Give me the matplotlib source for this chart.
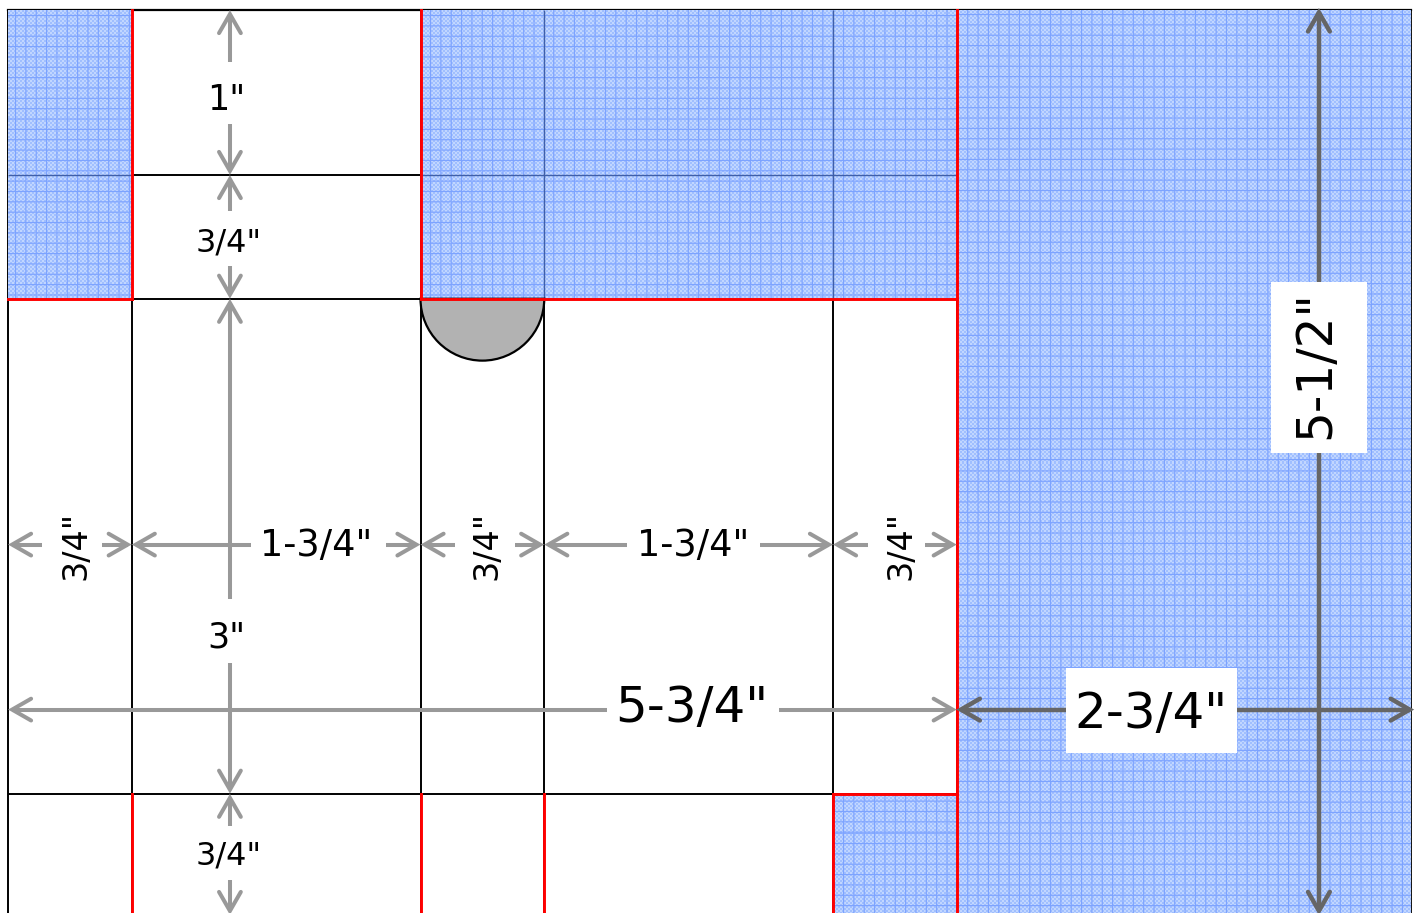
"""
Cutting layout for a box template, measurements in inches.
"""
import numpy as np
import matplotlib
matplotlib.use("Agg")
import matplotlib.pyplot as plt
from matplotlib.collections import LineCollection
from matplotlib.patches import Rectangle, Wedge

# column and row edges of the layout, inches
col_widths = [0.75, 1.75, 0.75, 1.75, 0.75, 2.75]
row_heights = [1.0, 0.75, 3.0, 0.75]
col_labels = ['3/4"', '1-3/4"', '3/4"', '1-3/4"', '3/4"']
row_labels = ['1"', '3/4"', '3"', '3/4"']
total_labels = ['5-3/4"', '2-3/4"', '5-1/2"']

xs = np.concatenate([[0], np.cumsum(col_widths)])
ys = np.concatenate([[0], np.cumsum(row_heights)])

# (column, row) cells cut away
waste_cells = [(0, 0), (0, 1), (2, 0), (2, 1), (3, 0), (3, 1), (4, 0), (4, 1), (4, 3)]

PX = 165.0  # pixels per inch in the output
FONT = "DejaVu Sans"
GRAY = "#999999"
DARK = "#666666"
RED = "#ff0000"

fig = plt.figure(figsize=(14.16, 9.13), dpi=100)
ax = fig.add_axes([0, 0, 1, 1])
ax.set_xlim(-8 / PX, (1416 - 8) / PX)
ax.set_ylim((913 - 10) / PX, -10 / PX)
ax.axis("off")


def waste_texture():
    # fine checker with a coarser, soft grid on top
    yy, xx = np.mgrid[0:913, 0:1416]
    check = ((xx // 2 + yy // 2) % 2)[..., None]
    base = np.array([0.63, 0.75, 1.0])
    light = np.array([0.76, 0.84, 1.0])
    tile = base * (1 - check) + light * check
    period = 10.35
    dx = np.abs((xx + 0.5) % period - period / 2)
    dy = np.abs((yy + 0.5) % period - period / 2)
    weight = np.clip(1.1 - np.minimum(dx, dy), 0, 1)[..., None]
    return tile * (1 - weight) + np.array([0.49, 0.64, 1.0]) * weight


texture = waste_texture()
extent = (ax.get_xlim()[0], ax.get_xlim()[1], ax.get_ylim()[0], ax.get_ylim()[1])

# black cell lines first
for x in xs[:-1]:
    ax.plot([x, x], [ys[0], ys[-1]], color="black", lw=1.4, solid_capstyle="butt", zorder=1)
for y in ys[:-1]:
    ax.plot([xs[0], xs[5]], [y, y], color="black", lw=1.4, solid_capstyle="butt", zorder=1)
ax.plot([xs[0], xs[-1]], [0, 0], color="black", lw=1.6, zorder=1)
ax.plot([xs[-1], xs[-1]], [ys[0], ys[-1]], color="black", lw=1.3, zorder=1)


def add_waste(x0, y0, x1, y1):
    im = ax.imshow(texture, extent=extent, zorder=2, interpolation="nearest", aspect="auto")
    im.set_clip_path(Rectangle((x0, y0), x1 - x0, y1 - y0, transform=ax.transData))


for c, r in waste_cells:
    add_waste(xs[c], ys[r], xs[c + 1], ys[r + 1])
add_waste(xs[5], ys[0], xs[6], ys[-1])
ax.set_xlim(extent[0], extent[1])
ax.set_ylim(extent[2], extent[3])

# faint dark seams where folds pass through the waste
seams = [[(xs[0], ys[1]), (xs[1], ys[1])], [(xs[2], ys[1]), (xs[5], ys[1])],
         [(xs[3], ys[0]), (xs[3], ys[2])], [(xs[4], ys[0]), (xs[4], ys[2])]]
ax.add_collection(LineCollection(seams, colors="#3f5fa8", linewidths=1.0, zorder=3))

# thumb notch
notch = Wedge((xs[2] + 0.375, ys[2]), 0.375, 0, 180, facecolor="#b2b2b2", edgecolor="black", lw=1.6, zorder=3)
ax.add_patch(notch)

# red cut lines
cuts = [[(xs[1], ys[0]), (xs[1], ys[2])], [(xs[0], ys[2]), (xs[1], ys[2])],
        [(xs[2], ys[0]), (xs[2], ys[2])], [(xs[2], ys[2]), (xs[5], ys[2])],
        [(xs[5], ys[0]), (xs[5], ys[-1])], [(xs[4], ys[3]), (xs[5], ys[3])],
        [(xs[4], ys[3]), (xs[4], ys[4])], [(xs[1], ys[3]), (xs[1], ys[4])],
        [(xs[2], ys[3]), (xs[2], ys[4])], [(xs[3], ys[3]), (xs[3], ys[4])]]
ax.add_collection(LineCollection(cuts, colors=RED, linewidths=2.1, capstyle="projecting", zorder=4))


def arrow(p0, p1, color=GRAY, lw=2.9, head=0.115, half=0.066, z=5):
    # p0 -> p1 with an open chevron head at p1
    p0, p1 = np.array(p0, float), np.array(p1, float)
    d = (p1 - p0) / np.hypot(*(p1 - p0))
    n = np.array([-d[1], d[0]])
    ax.plot(*zip(p0, p1), color=color, lw=lw, solid_capstyle="butt", zorder=z)
    ax.plot(*zip(p1 - d * head + n * half, p1, p1 - d * head - n * half),
            color=color, lw=lw, solid_joinstyle="miter", solid_capstyle="round", zorder=z)


def dim(x0, y0, x1, y1, gap0, gap1, **kw):
    # two arrows pointing outwards from the gap left for a label
    arrow((gap0[0], gap0[1]), (x0, y0), **kw)
    arrow((gap1[0], gap1[1]), (x1, y1), **kw)


eps = 0.025
# vertical dimension arrows in the second column
xv = xs[1] + 0.595
dim(xv, ys[0] + eps, xv, ys[1] - eps, (xv, 0.315), (xv, 0.69))
dim(xv, ys[1] + eps, xv, ys[2] - eps, (xv, 1.22), (xv, 1.55))
dim(xv, ys[2] + eps, xv, ys[3] - eps, (xv, 3.57), (xv, 3.96))
dim(xv, ys[3] + eps, xv, 5.46, (xv, 4.945), (xv, 5.27))

# horizontal dimension arrows across the columns
yh = 3.24
dim(xs[0] + eps, yh, xs[1] - eps, yh, (0.206, yh), (0.57, yh))
dim(xs[1] + eps, yh, xs[2] - eps, yh, (xs[1] + 0.72, yh), (xs[1] + 1.54, yh))
dim(xs[2] + eps, yh, xs[3] - eps, yh, (xs[2] + 0.21, yh), (xs[2] + 0.57, yh))
dim(xs[3] + eps, yh, xs[4] - eps, yh, (xs[3] + 0.5, yh), (xs[3] + 1.31, yh))
dim(xs[4] + eps, yh, xs[5] - eps, yh, (xs[4] + 0.21, yh), (xs[4] + 0.56, yh))

# overall dimensions
yt = 4.24
dim(xs[0] + eps, yt, xs[5] - eps, yt, (3.63, yt), (4.67, yt))
dim(xs[5] + 0.025, yt, xs[6] - 0.005, yt, (6.55, yt), (7.45, yt), color=DARK, lw=3.2)
xr = 7.945
dim(xr, ys[0] + 0.015, xr, ys[-1] - 0.04, (xr, 1.65), (xr, 1.65), color=DARK, lw=3.2)


def label(x, y, s, size, rot=0):
    return ax.text(x, y, s, fontsize=size, rotation=rot, ha="center", va="center",
                   family=FONT, color="black", zorder=7)


for x, s in zip([0.41, xs[1] + 1.12, xs[2] + 0.4, xs[3] + 0.9, xs[4] + 0.41], col_labels):
    big = s.startswith("1")
    label(x, yh + 0.005, s, 26.5 if big else 24, rot=0 if big else 90)

label(xv - 0.02, 0.545, row_labels[0], 25)
label(xv - 0.01, 1.41, row_labels[1], 23)
label(xv - 0.02, 3.8, row_labels[2], 25)
label(xv - 0.01, 5.13, row_labels[3], 23)

# white plates behind the big labels
ax.add_patch(Rectangle((6.415, 3.99), 1.036, 0.51, facecolor="white", edgecolor="none", zorder=6))
ax.add_patch(Rectangle((7.655, 1.65), 0.58, 1.035, facecolor="white", edgecolor="none", zorder=6))
label(4.145, 4.23, total_labels[0], 36)
label(6.925, 4.265, total_labels[1], 36)
label(7.92, 2.15, total_labels[2], 35, rot=90)

fig.savefig("out.png", dpi=100)
